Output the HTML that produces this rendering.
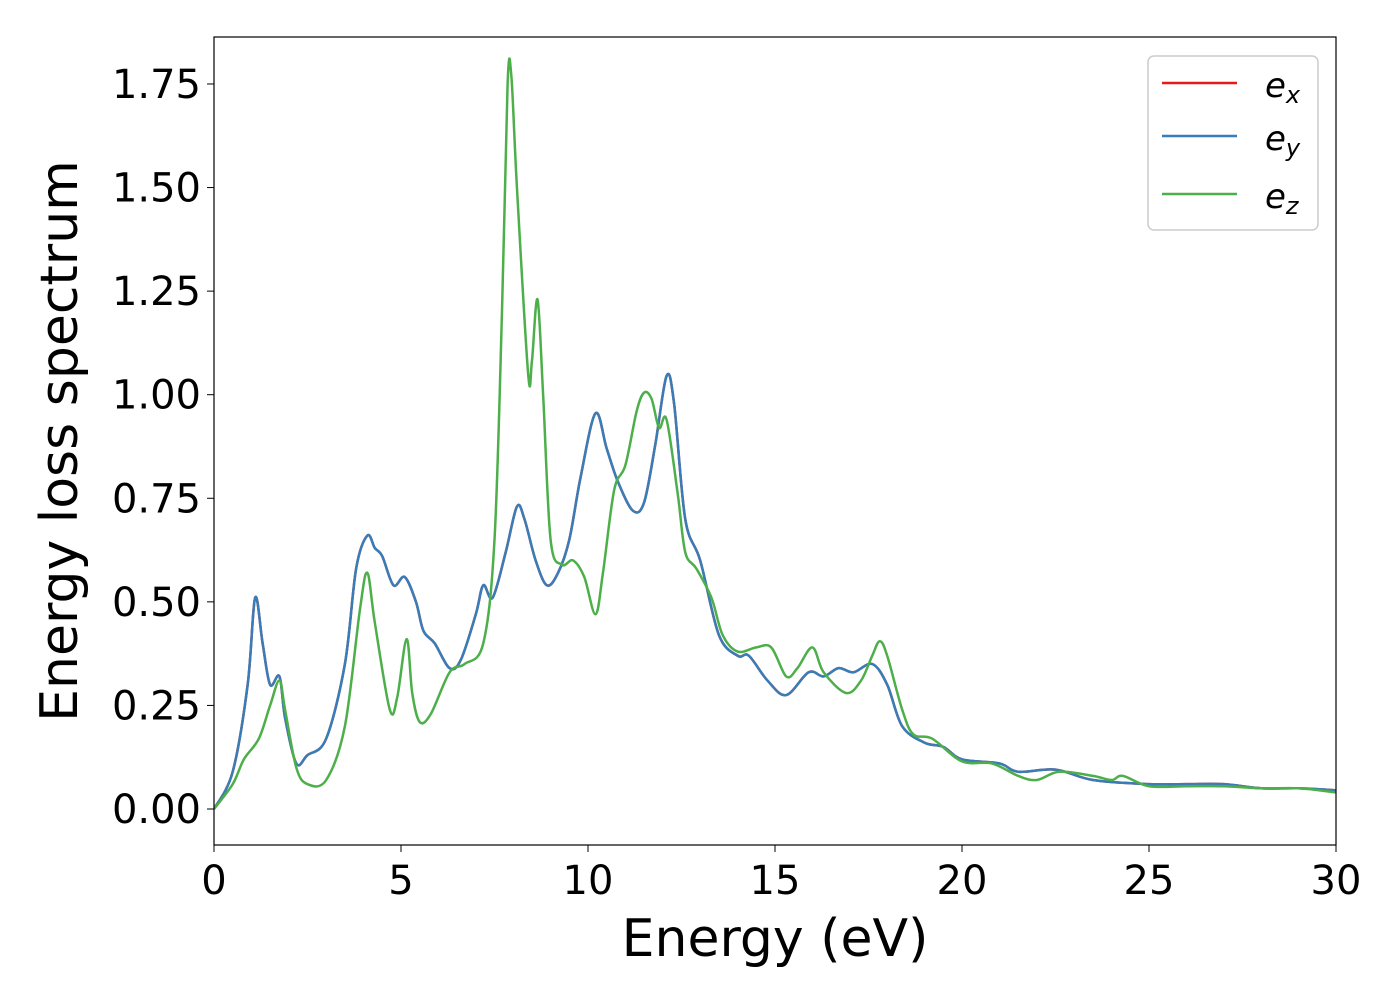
<!DOCTYPE html>
<html><head><meta charset="utf-8"><style>
body{margin:0;background:#fff;}
svg text{font-family:"DejaVu Sans","Liberation Sans",sans-serif;fill:#000;}
</style></head><body>
<svg width="1400" height="1000" xmlns="http://www.w3.org/2000/svg">
<rect width="1400" height="1000" fill="#fff"/>
<g id="plot"></g>
<g id="axes"></g>
<g id="legend">
<rect x="1148" y="56" width="170" height="174" rx="6" fill="#fff" stroke="#ccc" stroke-width="1.5"/>
<line x1="1162" y1="83" x2="1237" y2="83" stroke="#e41a1c" stroke-width="2.5"/>
<text x="1265" y="97" font-size="34" font-style="italic">e<tspan font-size="24" dy="6">x</tspan></text>
<line x1="1162" y1="136" x2="1237" y2="136" stroke="#377eb8" stroke-width="2.5"/>
<text x="1265" y="150" font-size="34" font-style="italic">e<tspan font-size="24" dy="6">y</tspan></text>
<line x1="1162" y1="194" x2="1237" y2="194" stroke="#4daf4a" stroke-width="2.5"/>
<text x="1265" y="208" font-size="34" font-style="italic">e<tspan font-size="24" dy="6">z</tspan></text>
</g>
<text x="775" y="956" font-size="52" text-anchor="middle">Energy (eV)</text>
<text transform="translate(77,441) rotate(-90)" font-size="52" text-anchor="middle">Energy loss spectrum</text>
</svg>
<script>
const blueX=[0,0.5,0.9,1.1,1.3,1.5,1.75,1.9,2.2,2.5,3,3.5,3.8,4.1,4.3,4.5,4.8,5.1,5.4,5.6,5.9,6.3,6.6,7.0,7.2,7.45,7.8,8.1,8.3,8.6,8.9,9.2,9.5,9.8,10.2,10.5,10.8,11.2,11.5,11.8,12.1,12.3,12.6,13,13.5,14,14.3,14.8,15.3,15.9,16.3,16.7,17.1,17.6,18,18.4,19,19.5,20,21,21.5,22.5,23.5,25,26,27,28,29,30];
const blueY=[0,0.09,0.3,0.51,0.4,0.3,0.32,0.22,0.11,0.13,0.17,0.35,0.58,0.66,0.63,0.61,0.54,0.56,0.5,0.43,0.4,0.34,0.36,0.47,0.54,0.51,0.62,0.73,0.7,0.6,0.54,0.57,0.65,0.8,0.955,0.87,0.79,0.72,0.74,0.88,1.045,0.98,0.7,0.6,0.42,0.37,0.37,0.31,0.275,0.33,0.32,0.34,0.33,0.35,0.3,0.2,0.16,0.15,0.12,0.11,0.09,0.095,0.07,0.06,0.06,0.06,0.05,0.05,0.045];
const greenX=[0,0.5,0.8,1.2,1.5,1.75,1.9,2.2,2.5,3,3.5,3.9,4.1,4.3,4.7,4.9,5.15,5.3,5.5,5.8,6.3,6.7,7.2,7.5,7.7,7.85,7.95,8.1,8.4,8.5,8.65,8.8,9.0,9.3,9.6,9.9,10.2,10.4,10.7,11,11.3,11.5,11.7,11.9,12.1,12.4,12.6,12.9,13.3,13.6,14,14.5,14.9,15.3,15.6,16,16.3,16.9,17.3,17.6,17.8,18,18.4,18.7,19.2,20,20.8,21.5,22,22.6,23.5,24,24.3,25,26,27,28,29,30];
const greenY=[0,0.06,0.12,0.17,0.25,0.31,0.24,0.1,0.06,0.07,0.2,0.48,0.57,0.45,0.24,0.27,0.41,0.28,0.21,0.23,0.33,0.35,0.4,0.65,1.2,1.75,1.77,1.5,1.05,1.08,1.23,1.0,0.65,0.59,0.6,0.56,0.47,0.57,0.77,0.83,0.96,1.005,0.99,0.92,0.94,0.76,0.62,0.58,0.51,0.42,0.38,0.39,0.39,0.32,0.34,0.39,0.33,0.28,0.31,0.37,0.405,0.37,0.24,0.18,0.17,0.115,0.11,0.08,0.07,0.09,0.08,0.07,0.08,0.055,0.055,0.055,0.05,0.05,0.04];
const xTicks=[0,5,10,15,20,25,30];
const yTicks=[0,0.25,0.5,0.75,1.0,1.25,1.5,1.75];
const L=214,R=1336,T=37,B=845;
const X=v=>L+(v-0)/30*(R-L);
const Y=v=>809-v*414.3;
const NS="http://www.w3.org/2000/svg";
function path(xs,ys){
  const p=xs.map((x,i)=>[X(x),Y(ys[i])]);
  let d=`M${p[0][0]},${p[0][1]}`;
  for(let i=0;i<p.length-1;i++){
    const p0=p[Math.max(0,i-1)],p1=p[i],p2=p[i+1],p3=p[Math.min(p.length-1,i+2)];
    const c1x=p1[0]+(p2[0]-p0[0])/6,c1y=p1[1]+(p2[1]-p0[1])/6;
    const c2x=p2[0]-(p3[0]-p1[0])/6,c2y=p2[1]-(p3[1]-p1[1])/6;
    d+=` C${c1x},${c1y} ${c2x},${c2y} ${p2[0]},${p2[1]}`;
  }
  return d;
}
const plot=document.getElementById('plot');
const cp=document.createElementNS(NS,'clipPath');cp.id='clip';
const cr=document.createElementNS(NS,'rect');cr.setAttribute('x',L);cr.setAttribute('y',T);cr.setAttribute('width',R-L);cr.setAttribute('height',B-T);
cp.appendChild(cr);plot.appendChild(cp);
[['series-ex',blueX,blueY,'#e41a1c'],['series-ey',blueX,blueY,'#377eb8'],['series-ez',greenX,greenY,'#4daf4a']].forEach(s=>{
  const e=document.createElementNS(NS,'path');
  e.setAttribute('d',path(s[1],s[2]));
  e.setAttribute('fill','none');e.setAttribute('stroke',s[3]);e.setAttribute('stroke-width','2.5');
  e.setAttribute('clip-path','url(#clip)');
  
  
  plot.appendChild(e);
});
const ax=document.getElementById('axes');
const fr=document.createElementNS(NS,'rect');
fr.setAttribute('x',L);fr.setAttribute('y',T);fr.setAttribute('width',R-L);fr.setAttribute('height',B-T);
fr.setAttribute('fill','none');fr.setAttribute('stroke','#000');fr.setAttribute('stroke-width','1.2');


ax.appendChild(fr);
xTicks.forEach(v=>{
  const l=document.createElementNS(NS,'line');
  l.setAttribute('x1',X(v));l.setAttribute('x2',X(v));l.setAttribute('y1',B);l.setAttribute('y2',B+7);l.setAttribute('stroke','#000');
  
  
  ax.appendChild(l);
  const t=document.createElementNS(NS,'text');
  t.setAttribute('x',X(v));t.setAttribute('y',894);t.setAttribute('font-size','40');t.setAttribute('text-anchor','middle');
  t.textContent=String(v);
  
  
  ax.appendChild(t);
});
yTicks.forEach(v=>{
  const l=document.createElementNS(NS,'line');
  l.setAttribute('x1',L-7);l.setAttribute('x2',L);l.setAttribute('y1',Y(v));l.setAttribute('y2',Y(v));l.setAttribute('stroke','#000');
  
  
  ax.appendChild(l);
  const t=document.createElementNS(NS,'text');
  t.setAttribute('x',L-13);t.setAttribute('y',Y(v)+14);t.setAttribute('font-size','40');t.setAttribute('text-anchor','end');
  t.textContent=v.toFixed(2);
  
  
  ax.appendChild(t);
});
</script>
</body></html>
